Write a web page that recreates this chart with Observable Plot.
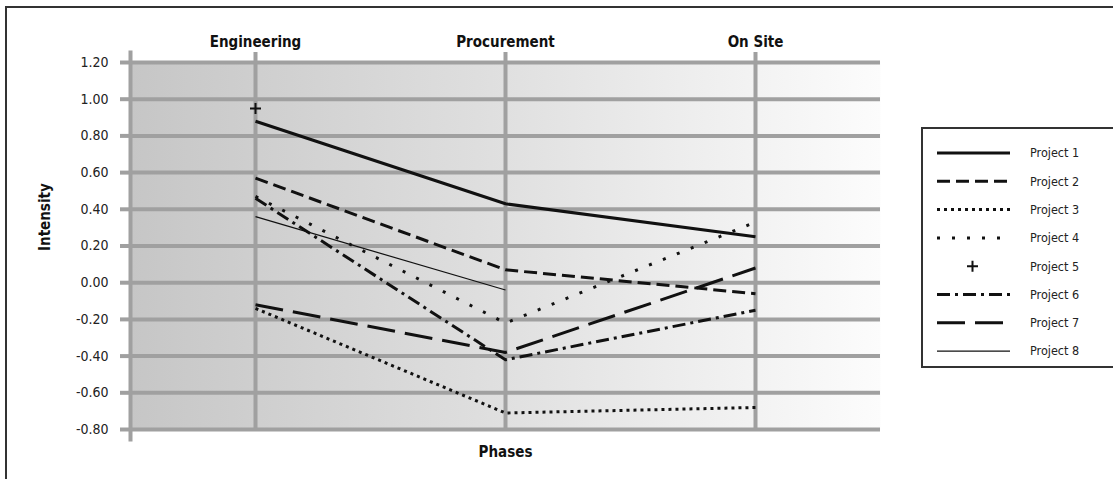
<!DOCTYPE html>
<html>
<head>
<meta charset="utf-8">
<script src="https://cdn.jsdelivr.net/npm/d3@7"></script>
<script src="https://cdn.jsdelivr.net/npm/@observablehq/plot@0.6"></script>
<style>
  html, body { margin: 0; padding: 0; background: #fff; overflow: hidden; }
  #page {
    position: relative; width: 1113px; height: 479px; overflow: hidden;
    font-family: "Liberation Sans Narrow", "DejaVu Sans Condensed", "Arial Narrow", sans-serif;
  }
  #border {
    position: absolute; left: 5px; top: 6px; width: 1300px; height: 700px;
    border-left: 2px solid #333; border-top: 2px solid #333;
  }
  #chart { position: absolute; left: 0; top: 0; }
  #legend { position: absolute; left: 921px; top: 127px; }
</style>
</head>
<body>
<div id="page">
  <div id="border"></div>
  <div id="chart"></div>
  <div id="legend"></div>
</div>
<script>
// Phases along the top axis
const phases = ["Engineering", "Procurement", "On Site"];

// Intensity of each project per phase (null = no value for that phase)
const project1 = [0.88, 0.43, 0.25];
const project2 = [0.57, 0.07, -0.06];
const project3 = [-0.14, -0.71, -0.68];
const project4 = [0.47, -0.22, 0.33];
const project5 = [0.95, null, null];
const project6 = [0.46, -0.42, -0.15];
const project7 = [-0.12, -0.38, 0.08];
const project8 = [0.36, -0.04, null];

const projectNames = ["Project 1", "Project 2", "Project 3", "Project 4",
                      "Project 5", "Project 6", "Project 7", "Project 8"];
const projectValues = [project1, project2, project3, project4,
                       project5, project6, project7, project8];

// Intensity tick values
const yTicks = [-0.8, -0.6, -0.4, -0.2, 0, 0.2, 0.4, 0.6, 0.8, 1.0, 1.2];

// Line styling for each project (same order as projectNames)
const lineStyles = [
  {width: 3, dash: null},
  {width: 3, dash: "13,6"},
  {width: 3, dash: "3,4"},
  {width: 3, dash: "3,12"},
  {marker: true},
  {width: 3, dash: "13,5,3,5"},
  {width: 3, dash: "28,10"},
  {width: 1.2, dash: null}
];

const ink = "#111";
const gridGray = "#a0a0a0";
const fontFamily = '"Liberation Sans Narrow", "DejaVu Sans Condensed", "Arial Narrow", sans-serif';

// Thin "+" marker
const thinPlus = {
  draw(context, size) {
    const r = Math.sqrt(size / Math.PI);
    context.moveTo(-r, 0); context.lineTo(r, 0);
    context.moveTo(0, -r); context.lineTo(0, r);
  }
};

const rowsFor = values => phases.map((phase, i) => ({phase, value: values[i]}));

const seriesMarks = projectValues.map((values, i) => {
  const s = lineStyles[i];
  if (s.marker) {
    return Plot.dot(rowsFor(values), {
      x: "phase", y: "value", symbol: thinPlus, r: 5.5,
      stroke: ink, strokeWidth: 2, fill: "none"
    });
  }
  return Plot.line(rowsFor(values), {
    x: "phase", y: "value", stroke: ink, strokeWidth: s.width,
    strokeDasharray: s.dash ?? undefined, strokeLinecap: "butt",
    strokeLinejoin: "round", curve: "linear"
  });
});

const chart = Plot.plot({
  width: 900,
  height: 479,
  marginLeft: 130,
  marginRight: 20,
  marginTop: 62,
  marginBottom: 50,
  style: {fontFamily, background: "transparent", overflow: "visible"},
  x: {type: "point", domain: phases, padding: 0.5},
  y: {domain: [-0.8, 1.2]},
  marks: [
    Plot.frame({fill: "url(#bgFade)", stroke: "none"}),
    Plot.ruleY(yTicks, {stroke: gridGray, strokeWidth: 4}),
    Plot.ruleX(phases, {stroke: gridGray, strokeWidth: 4, insetTop: -10}),
    Plot.frame({anchor: "left", stroke: gridGray, strokeWidth: 4, insetTop: -10, insetBottom: -10}),
    Plot.axisY({
      ticks: yTicks, tickSize: 10, tickPadding: 12, tickFormat: d => d.toFixed(2),
      stroke: gridGray, strokeWidth: 4, fill: "#222", fontSize: 14, label: null
    }),
    Plot.axisX({
      anchor: "top", tickSize: 0, tickPadding: 16, fontSize: 15, fontWeight: "bold",
      fill: ink, label: null
    }),
    Plot.text(["Intensity"], {
      text: d => d, frameAnchor: "left", rotate: -90, dx: -85, dy: 5,
      fontSize: 15, fontWeight: "bold", fill: ink
    }),
    Plot.text(["Phases"], {
      text: d => d, frameAnchor: "bottom", dy: 27,
      fontSize: 15, fontWeight: "bold", fill: ink
    }),
    ...seriesMarks
  ]
});

// Left-to-right fade of the plotting area
d3.select(chart).insert("defs", ":first-child").html(`
  <linearGradient id="bgFade" x1="0" y1="0" x2="1" y2="0">
    <stop offset="0" stop-color="#c6c6c6"/>
    <stop offset="0.5" stop-color="#e0e0e0"/>
    <stop offset="1" stop-color="#fcfcfc"/>
  </linearGradient>`);

document.getElementById("chart").appendChild(chart);

// Legend box
const legendSvg = d3.select("#legend").append("svg")
  .attr("width", 200).attr("height", 242)
  .style("overflow", "visible");
legendSvg.append("rect")
  .attr("x", 1).attr("y", 1).attr("width", 260).attr("height", 239)
  .attr("fill", "#fff").attr("stroke", "#333").attr("stroke-width", 2);

projectNames.forEach((name, i) => {
  const s = lineStyles[i];
  const y = 26 + i * 28.3;
  if (s.marker) {
    legendSvg.append("path")
      .attr("d", `M46,${y}h11M51.5,${y - 5.5}v11`)
      .attr("stroke", ink).attr("stroke-width", 2).attr("fill", "none");
  } else {
    legendSvg.append("line")
      .attr("x1", 16).attr("x2", 89).attr("y1", y).attr("y2", y)
      .attr("stroke", ink).attr("stroke-width", s.width)
      .attr("stroke-dasharray", s.dash)
      .attr("stroke-linecap", "butt");
  }
  legendSvg.append("text")
    .attr("x", 109).attr("y", y).attr("dy", "0.35em")
    .attr("font-family", fontFamily).attr("font-size", 12.5)
    .attr("fill", "#222").text(name);
});
</script>
</body>
</html>
